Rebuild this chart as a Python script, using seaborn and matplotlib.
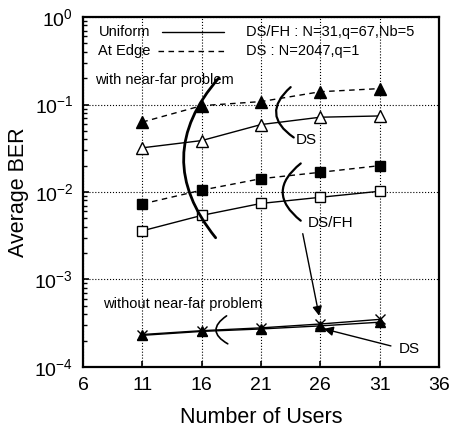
import matplotlib
matplotlib.use("Agg")
import matplotlib.pyplot as plt
import seaborn as sns
import numpy as np

# Number of users on the x axis
users = [11, 16, 21, 26, 31]

# Average BER with near-far problem
ds_edge = [0.063, 0.097, 0.108, 0.14, 0.152]
ds_uniform = [0.032, 0.0387, 0.059, 0.0716, 0.074]
dsfh_edge = [0.0073, 0.0105, 0.0142, 0.0168, 0.020]
dsfh_uniform = [0.0036, 0.0054, 0.0074, 0.0087, 0.0102]

# Average BER without near-far problem
dsfh_ideal = [2.35e-4, 2.6e-4, 2.8e-4, 3.1e-4, 3.5e-4]
ds_ideal = [2.3e-4, 2.55e-4, 2.72e-4, 2.95e-4, 3.25e-4]

x_ticks = [6, 11, 16, 21, 26, 31, 36]
y_ticks = [1e-4, 1e-3, 1e-2, 1e-1, 1e0]

sns.set_style("ticks")
plt.rcParams["font.family"] = ["Liberation Sans", "DejaVu Sans"]
plt.rcParams["mathtext.fontset"] = "custom"
plt.rcParams["mathtext.rm"] = "Liberation Sans"
plt.rcParams["mathtext.it"] = "Liberation Sans:italic"
plt.rcParams["mathtext.bf"] = "Liberation Sans:bold"
plt.rcParams["text.color"] = "black"
plt.rcParams["axes.labelcolor"] = "black"

fig = plt.figure(figsize=(4.52, 4.32), dpi=100)
ax = fig.add_axes([0.1836, 0.1505, 0.7876, 0.8101])

dash = (0, (4, 3.2))
common = dict(ax=ax, color="black", linewidth=1.0, markeredgecolor="black",
              markeredgewidth=1.0, legend=False)

sns.lineplot(x=users, y=ds_edge, marker="^", markersize=8.5,
             markerfacecolor="black", linestyle=dash, **common)
sns.lineplot(x=users, y=ds_uniform, marker="^", markersize=8.5,
             markerfacecolor="white", linestyle="-", **common)
sns.lineplot(x=users, y=dsfh_edge, marker="s", markersize=7.5,
             markerfacecolor="black", linestyle=dash, **common)
sns.lineplot(x=users, y=dsfh_uniform, marker="s", markersize=7.5,
             markerfacecolor="white", linestyle="-", **common)
sns.lineplot(x=users, y=dsfh_ideal, marker="x", markersize=7,
             markerfacecolor="black", linestyle="-", **common)
sns.lineplot(x=users, y=ds_ideal, marker="^", markersize=7,
             markerfacecolor="black", linestyle="-", **common)

ax.set_yscale("log")
ax.set_xlim(6, 36)
ax.set_ylim(1e-4, 1)
ax.set_xticks(x_ticks)
ax.set_yticks(y_ticks)
ax.set_yticklabels([r"$\mathregular{10^{%d}}$" % int(np.log10(v)) for v in y_ticks])

ax.grid(True, which="major", linestyle=":", color="black", linewidth=0.8)
ax.tick_params(which="both", direction="in", top=False, right=False,
               labelsize=14, colors="black")
ax.tick_params(which="major", length=4, width=1.2, pad=7)
ax.tick_params(which="minor", length=3, width=1.0)
ax.tick_params(axis="x", which="minor", bottom=False)
for side in ax.spines.values():
    side.set_linewidth(1.6)
    side.set_color("black")

ax.set_xlabel("Number of Users", fontsize=15.5)
ax.set_ylabel("Average BER", fontsize=15.5)
ax.xaxis.set_label_coords(0.5, -0.115)
ax.yaxis.set_label_coords(-0.152, 0.5)

# Line-style key
ax.text(7.3, 0.673, "Uniform", fontsize=10.5, va="center")
ax.plot([12.7, 17.9], [0.673, 0.673], color="black", linewidth=1.0)
ax.text(7.3, 0.408, "At Edge", fontsize=10.5, va="center")
ax.plot([12.3, 17.9], [0.408, 0.408], color="black", linewidth=1.0, linestyle=dash)
ax.text(19.7, 0.673, "DS/FH : N=31,q=67,Nb=5", fontsize=10.5, va="center")
ax.text(19.7, 0.408, "DS : N=2047,q=1", fontsize=10.5, va="center")

ax.text(7.05, 0.19, "with near-far problem", fontsize=10.5, va="center")
ax.text(7.65, 5.27e-4, "without near-far problem", fontsize=10.5, va="center")

# Brackets grouping the curves
def bracket(p_top, p_bot, rad, lw=1.8):
    ax.annotate("", xy=p_bot, xytext=p_top,
                arrowprops=dict(arrowstyle="-", color="black", linewidth=lw,
                                shrinkA=0, shrinkB=0,
                                connectionstyle="arc3,rad=%g" % rad))

bracket((17.43, 0.2), (17.18, 0.003), 0.42, lw=2.0)
bracket((23.5, 0.158), (23.76, 0.042), 0.64, lw=1.6)
bracket((24.35, 0.0212), (24.35, 0.0047), 0.63, lw=1.6)
bracket((18.1, 3.84e-4), (18.2, 1.84e-4), 0.8, lw=1.2)

ax.text(23.93, 0.039, "DS", fontsize=11, va="center", ha="left")
ax.text(24.95, 0.00447, "DS/FH", fontsize=11, va="center", ha="left")
ax.text(32.6, 1.61e-4, "DS", fontsize=11, va="center", ha="left")

arrow = dict(arrowstyle="-|>", color="black", linewidth=1.0,
             mutation_scale=14, shrinkA=0, shrinkB=0)
ax.annotate("", xy=(25.9, 3.84e-4), xytext=(24.52, 0.00334), arrowprops=arrow)
ax.annotate("", xy=(26.29, 2.73e-4), xytext=(31.95, 1.74e-4), arrowprops=arrow)

fig.savefig("out.png", dpi=100)
